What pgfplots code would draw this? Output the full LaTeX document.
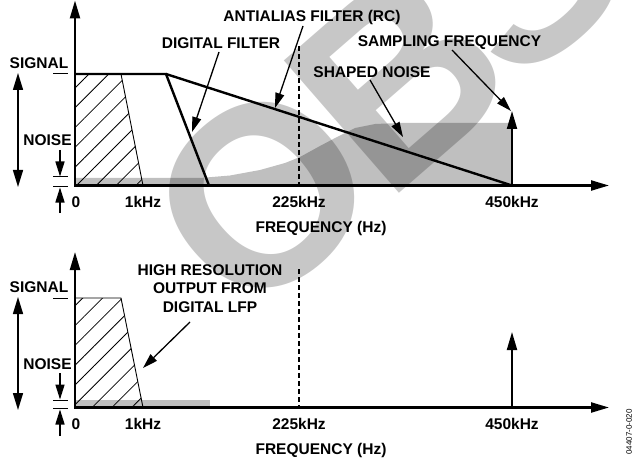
\documentclass[border=0pt]{standalone}
\usepackage{pgfplots}
\pgfplotsset{compat=1.18}
\usepackage{fontspec}
\setmainfont{Liberation Sans}
\usetikzlibrary{arrows.meta,patterns.meta,calc}
\newcommand\lbl{\fontsize{15.5}{18}\selectfont\bfseries}
\definecolor{noisegray}{gray}{0.75}
\begin{document}
\begin{tikzpicture}[
  ann/.style={line width=1.3pt,-{Triangle[length=15pt,width=9pt]}},
  ax/.style={line width=2.2pt,-{Triangle[length=18pt,width=10pt]}},
  lab/.style={font=\lbl,inner sep=0pt},
  wm/.style={rotate=41,inner sep=0pt,outer sep=0pt,font=\fontsize{255}{255}\selectfont\bfseries,text=black,text opacity=0.22}]
\begin{axis}[at={(0,0)},anchor=south west,scale only axis,width=633pt,height=460pt,
  xmin=0,xmax=633,ymin=0,ymax=460,y dir=reverse,hide axis,clip=false]
% ---------------- top panel ----------------
% shaped noise
\addplot[fill=noisegray,draw=none] coordinates {(75,185.5)(75,178)(200,178)(230,175.5)(260,170)(285,163)(300,157)(320,146)(337,137)(355,128)(375,124)(400,123)(512,123)(512,185.5)} -- cycle;
% signal hatch
\addplot[pattern={Lines[angle=45,distance=14pt,line width=0.8pt]},draw=none] coordinates {(75,185.5)(75,74)(121,74)(143,185.5)} -- cycle;
\addplot[line width=0.9pt] coordinates {(121,74)(143,185.5)};
% digital filter
\addplot[line width=2.4pt] coordinates {(75,74)(166,74)(209,185.5)};
% antialias RC filter
\addplot[line width=2.4pt] coordinates {(166,74)(512,185.5)};
% fs/2 dashed
\addplot[line width=1.3pt,dash pattern=on 5pt off 3pt] coordinates {(299,46)(299,185.5)};
% sampling frequency
\addplot[ax,line width=2pt] coordinates {(512,185.5)(512,111)};
% axes
\addplot[ax] coordinates {(75,186.6)(75,0.5)};
\addplot[ax] coordinates {(74,185.5)(609,185.5)};
% labels
\node[lab] at (312,17) {ANTIALIAS FILTER (RC)};
\node[lab] at (221,43) {DIGITAL FILTER};
\node[lab] at (449.5,43) {SAMPLING FREQUENCY};
\node[lab] at (372,72) {SHAPED NOISE};
\draw[ann] (303,26) -- (275,108);
\draw[ann] (219,52) -- (192,132);
\draw[ann] (370,80) -- (403,137);
\draw[ann] (452,50) -- (511,111);
\node[lab] at (39,63) {SIGNAL};
\node[lab] at (47.5,140) {NOISE};
\draw[line width=1pt] (53,74) -- (68,74);
\draw[line width=1.5pt,{Triangle[length=17pt,width=10pt]}-{Triangle[length=17pt,width=10pt]}] (18,73) -- (18,187);
\draw[line width=1.5pt,-{Triangle[length=15pt,width=9pt]}] (60,150) -- (60,176.5);
\draw[line width=1pt] (53,177) -- (68,177);
\draw[line width=1pt] (53,186.5) -- (68,186.5);
\draw[line width=1.5pt,-{Triangle[length=15pt,width=9pt]}] (60,213) -- (60,187.5);
\node[lab] at (76,202) {0};
\node[lab] at (143,202) {1kHz};
\node[lab] at (299,202) {225kHz};
\node[lab] at (512,202) {450kHz};
\node[lab] at (321,228) {FREQUENCY (Hz)};
% ---------------- bottom panel ----------------
\addplot[fill=noisegray,draw=none] coordinates {(75,407.5)(75,400)(210,400)(210,407.5)} -- cycle;
\addplot[pattern={Lines[angle=45,distance=14pt,line width=0.8pt]},draw=none] coordinates {(75,407.5)(75,298)(121,298)(143,407.5)} -- cycle;
\addplot[line width=0.9pt] coordinates {(75,298)(121,298)(143,407.5)};
\addplot[line width=1.3pt,dash pattern=on 5pt off 3pt] coordinates {(299,269)(299,407.5)};
\addplot[ax,line width=2pt] coordinates {(512,407.5)(512,332)};
\addplot[ax] coordinates {(75,408.6)(75,252)};
\addplot[ax] coordinates {(74,407.5)(609,407.5)};
\node[lab] at (210,270) {HIGH RESOLUTION};
\node[lab] at (210,288.5) {OUTPUT FROM};
\node[lab] at (210,307) {DIGITAL LFP};
\draw[ann] (190,322) -- (143,368);
\node[lab] at (39,287) {SIGNAL};
\node[lab] at (47.5,364) {NOISE};
\draw[line width=1pt] (53,298) -- (68,298);
\draw[line width=1.5pt,{Triangle[length=17pt,width=10pt]}-{Triangle[length=17pt,width=10pt]}] (18,297) -- (18,410);
\draw[line width=1.5pt,-{Triangle[length=15pt,width=9pt]}] (60,373) -- (60,399.5);
\draw[line width=1pt] (53,400) -- (68,400);
\draw[line width=1pt] (53,408.5) -- (68,408.5);
\draw[line width=1.5pt,-{Triangle[length=15pt,width=9pt]}] (60,436) -- (60,409.5);
\node[lab] at (76,424) {0};
\node[lab] at (143,424) {1kHz};
\node[lab] at (299,424) {225kHz};
\node[lab] at (512,424) {450kHz};
\node[lab] at (321,450) {FREQUENCY (Hz)};
\node[rotate=90,font=\fontsize{8}{8}\selectfont,inner sep=0pt] at (629,432) {04407-0-020};
% watermark
\node[wm] (wo) at (263,195) {O};
\node[wm,anchor=west] at ($(wo.east)!12pt!(wo.west)$) {\addfontfeatures{LetterSpace=-5}BSOLETE};
\end{axis}
\pgfresetboundingbox
\path[use as bounding box] (0,0) rectangle (633pt,460pt);
\end{tikzpicture}
\end{document}
